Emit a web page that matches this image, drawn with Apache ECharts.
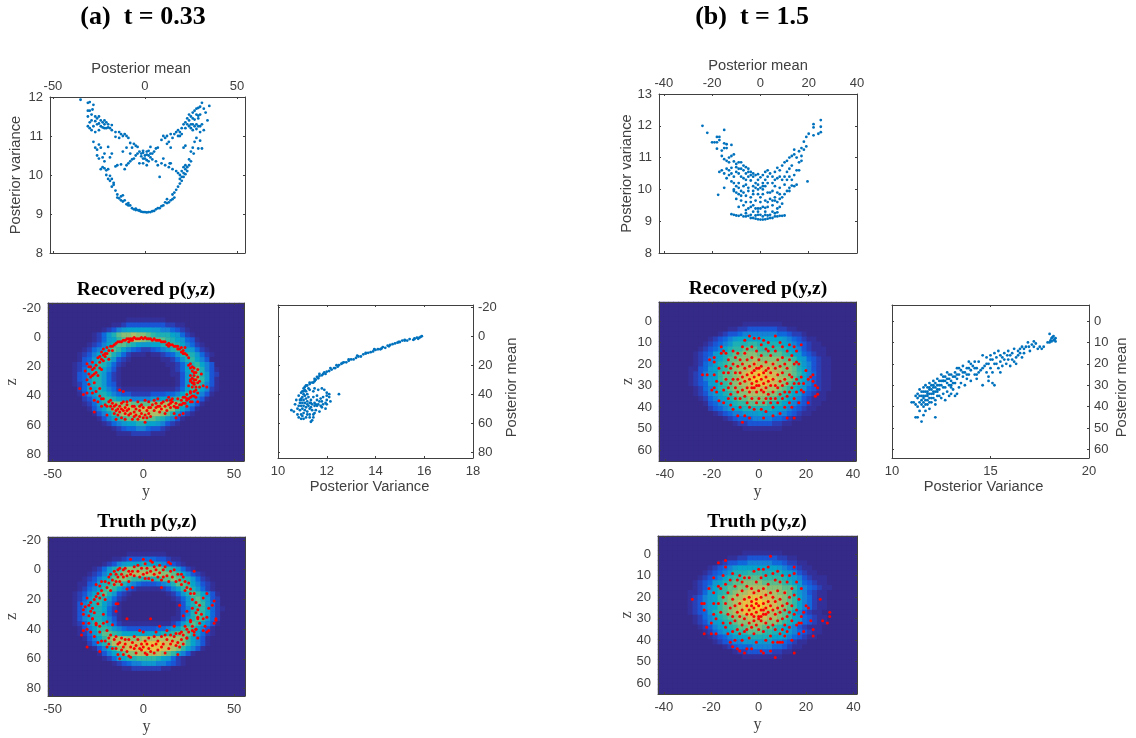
<!DOCTYPE html>
<html><head><meta charset="utf-8"><style>html,body{margin:0;padding:0;background:#fff}#c{width:1136px;height:738px}</style>
<script src="https://cdn.jsdelivr.net/npm/echarts@6/dist/echarts.min.js"></script></head>
<body><div id="c"></div><script>
const ticksA_y=[-50,0,50], ticksB_y=[-40,-20,0,20,40];
const ticksA_z=[-20,0,20,40,60,80], ticksB_z=[0,10,20,30,40,50,60];
const ticksA_var=[10,12,14,16,18], ticksB_var=[10,15,20];
const ticksA_pv=[8,9,10,11,12], ticksB_pv=[8,9,10,11,12,13];

// Scatter values, as flat x,y pairs
const aMeanVar=[-35,11.93,-31,11.85,-30,11.87,-28,11.8,-28.5,11.68,-30,11.65,-31,11.65,-31,11.5,-29,11.55,-27,11.5,-26,11.45,-25,11.5,-24,11.4,-23,11.35,-22,11.3,-21,11.35,-20,11.3,-22,11.2,-24,11.25,-26,11.3,-28,11.25,-30,11.2,-31,11.25,-29,11.15,-27,11.1,-25,11.15,-21,11.2,-19,11.2,-18,11.15,-16,11.1,-14,11.1,-13,11.05,-12,11,-11,11.05,-10,11,-9,10.95,-14,10.95,-16,10.98,-8,10.82,-6,10.8,-5,10.75,-7,10.7,-4,10.72,-3,10.6,-2,10.55,-1,10.57,0,10.5,1,10.52,2,10.5,-2,10.48,3,10.45,-1,10.42,1,10.6,2,10.62,3,10.72,5,10.6,6,10.68,4,10.55,7,10.7,9,10.9,10,11,11,10.95,12,11,13,10.85,14,11.05,15,10.95,16,11.05,17,11.1,18,11.15,19,11.1,20,11.2,21,11.3,22,11.35,23,11.45,24,11.4,25,11.5,26,11.6,27,11.65,28,11.7,29,11.72,30,11.75,31,11.85,32,11.7,35,11.77,33,11.6,34,11.4,30,11.55,28,11.55,26,11.45,24,11.25,25,11.2,26,11.3,27,11.25,28,11.3,29,11.25,31,11.3,32,11.15,30,11.1,28,10.95,27,10.85,30,10.88,29,10.68,31,10.68,26,10.7,25,10.6,26.5,10.55,21,10.7,22,10.75,14,10.7,19,11,12,10.8,
-28,10.85,-27,10.7,-26,10.65,-25,10.78,-24,10.7,-22,10.55,-26,10.5,-25,10.42,-23,10.45,-22,10.35,-24,10.15,-23,10.2,-22,10.17,-20,10.15,-21,10,-19,9.98,-20,9.9,-18,9.9,-17,9.8,-18,9.7,-16,9.6,-15,9.5,-15,9.42,-13,9.45,-12,9.48,-13,9.35,-11,9.35,-10,9.25,-9,9.22,-8,9.22,-7,9.15,-6,9.12,-5,9.1,-4,9.1,-3,9.08,-2,9.06,-1,9.05,0,9.05,1,9.04,2,9.05,3,9.05,4,9.07,6,9.12,7,9.15,9,9.2,10,9.22,11,9.3,12,9.38,13,9.3,14,9.35,15,9.5,16,9.55,17,9.62,18,9.7,19,9.78,20,9.85,21,9.95,22,10.02,20,10.1,21,10.2,22,10.15,23,10.1,24,10.25,25,10.35,24,10.4,22,10.25,-16,10.22,-15,10.25,-13,10.27,-11,10.15,-10,10.25,-9,10.3,-8,10.35,-7,10.4,-6,10.42,-5,10.5,-4,10.55,-3,10.3,-1,10.3,1,10.25,2,10.35,4,10.4,6,10.35,7,10.25,9,10.3,10,10.42,11,10.25,13,10.2,13.5,10.3,14,10.3,15,10.15,17,10.1,8,9.95,18,10.05,19,10,21,10.05,-12,10.6,-10,10.7,-8,10.55,-18,10.55,-20,10.72,-19,10.45,
-27,11.38,-25,11.32,-23,11.22,-22,11.4,-20,11.22,-18,11.28,-29,11.4,-30,11.35,27,11.42,29,11.45,25,11.3,23,11.3,28,11.18,30,11.25,26,11.15,29,11.52,24,11.55,22,11.2,20,11.05,18,11,-17,9.75,-14,9.4,-12,9.32,-9,9.28,-5,9.14,-3,9.1,5,9.08,8,9.15,12,9.28,15,9.38,16,9.42,19,9.9,20,9.95,23,10.2,-19,9.85,-21,10.12,-1,10.62,3,10.55,0,10.42,1,10.38];

const aRecovered=[-35,35,-33,39,-31,18,-32,23,-31,29,-30,25,-30,32,-29,20,-28,17,-28,22,-28,26,-27,31,-27,21,-26,24,-26,19,-25,26,-25,14,-24,17,-24,13,-23,22,-23,10,-22,16,-22,8,-21,11,-21,13,-20,7,-19,15,-19,9,-18,6,-17,6,-16,5,-15,4,-14,3,-13,3,-12,3,-11,2,-10,2,-9,1,-8,1,-7,1,-6,1,-6,2,-5,0,-4,1,-3,1,-2,1,-1,0,0,1,1,0,2,1,3,1,4,1,5,2,6,1,7,2,8,2,9,2,10,3,11,3,12,3,13,5,14,4,15,5,16,5,17,6,18,6,19,8,20,8,21,7,22,9,23,7,21,10,23,11,24,12,25,14,26,18,25,19,27,20,28,21,27,23,29,24,30,22,32,25,26,26,28,26,27,28,29,29,26,30,28,31,27,31,30,31,31,30,28,32,25,33,27,34,29,34,31,34,33,33,35,34,26,37,28,37,30,38,27,40,24,39,26,41,29,41,24,42,22,41,30,44,27,44,23,45,
-31,38,-29,35,-28,38,-27,43,-26,37,-25,44,-24,40,-23,47,-22,42,-21,46,-20,47,-20,53,-27,51,-19,44,-18,47,-17,49,-16,47,-16,52,-15,50,-15,56,-14,49,-14,53,-13,47,-13,51,-12,49,-12,55,-11,50,-11,44,-10,48,-10,52,-10,56,-9,50,-9,46,-8,53,-8,49,-7,43,-7,52,-6,47,-6,56,-5,51,-5,54,-4,49,-4,53,-3,44,-3,56,-2,50,-2,54,-1,46,-1,52,0,48,0,55,1,43,1,53,1,58,2,50,2,55,3,44,3,52,4,48,4,54,5,46,6,43,6,50,7,45,7,48,8,42,8,47,9,51,10,45,10,49,11,44,12,47,12,52,13,43,13,50,14,41,14,46,15,45,15,48,16,42,16,44,17,47,17,52,18,45,18,55,19,42,19,48,20,46,20,53,21,43,22,45,22,52,23,41,24,43,24,47,26,44,26,38,-13,36,-11,37,-9,44,-17,45,
-30,20,-29,27,-27,25,-24,21,-23,15,-22,12,-20,11,-17,9,-7,2,-8,3,14,6,19,6,22,11,26,21,28,24,26,29,30,27,28,29,29,36,-24,35,-23,42,-18,43,-15,46,-12,45,-5,47,-2,47,3,48,9,47,15,43,18,48,21,46,25,42,28,40];

const aPostVar=[15.9,0,15.85,0.5,15.8,1,15.7,1,15.75,1.8,15.6,1.5,15.55,2.5,15.4,2,15.3,3,15.2,3,15.1,3,15,4,14.9,4.5,14.8,5,14.7,5.5,14.6,6,14.5,6.5,14.4,8,14.3,7.5,14.2,9,14.1,9,14,9.5,13.9,10.5,13.8,11,13.7,11.5,13.6,12,13.5,12.5,13.4,14,13.3,14,13.2,15,13.1,16,13,16,12.9,17,12.8,18,12.7,18,12.6,19,12.5,20,12.4,20,12.35,22,12.3,22,12.2,23,12.1,24,12,24.5,11.95,26,11.85,26,11.8,27,11.7,27.5,11.65,29,11.6,28,11.55,30,11.5,31,11.45,32,11.4,32,11.3,33,11.2,34,11.15,34,11.1,35,11.1,37,11.05,36,11,38,12.5,40,12,39,11.9,37,11.8,36,11.65,37,11.5,36,11.45,38,11.3,37,11.2,40,11.05,40,10.95,39,10.85,41,10.75,44,10.9,44,11,42,11.05,44,11.15,43,11.25,42,11.35,44,11.45,42,11.6,41,11.75,43,11.85,42,12,41,12.1,40,12.1,42,12.15,45,12,44,11.95,46,11.8,45,11.7,45,11.6,44,11.5,46,11.4,47,11.3,46,11.2,45,11.1,46,11,46,10.9,46,10.85,48,10.95,48,11.05,48,11.15,49,11.25,48,11.35,49,11.5,48,11.6,48,11.75,48,11.85,47,12,47,11.95,50,11.8,49,10.7,47,10.55,51,10.65,52,10.8,50,10.9,51,11,50,11.1,51,11.2,52,11.3,50,11.4,51,11.55,51,11.7,52,11.5,53,11.45,54,11.3,54,11.2,54,11.05,53,10.95,54,10.8,54,10.85,56,11,55,11.05,57,11.15,56,11.3,56,11.45,56,11.4,58,11.35,59,10.95,57,
15.6,2,15.2,2.5,14.95,4,14.55,7,14.25,8.5,13.95,9,13.6,11.5,13.25,13.5,12.9,16,12.65,18.5,12.45,21,12.15,22,11.9,25,11.7,26,11.5,29.5,11.3,32,11.05,38,11.15,38,11.25,36,10.95,44,11.1,41,11.2,47,11.35,46,11.55,47,11.65,47,10.95,43];

const aTruth=[-33,27,-34,23,-33,30,-32,25,-31,19,-30,24,-30,31,-29,28,-29,22,-28,26,-28,33,-27,20,-27,29,-26,10,-26,18,-26,36,-25,16,-25,23,-24,19,-24,11,-24,38,-23,8,-23,14,-22,30,-22,17,-21,20,-21,8,-20,12,-20,35,-19,5,-19,9,-18,14,-18,3,-17,7,-16,1,-16,10,-15,3,-15,8,-14,0,-14,5,-14,23,-13,-1,-13,8,-12,3,-12,10,-11,0,-11,5,-10,-1,-9,4,-9,13,-8,1,-8,8,-7,-7,-7,3,-6,1,-6,12,-5,-2,-5,4,-3,-3,-3,1,-2,5,-1,-1,0,-7,0,3,1,-4,1,6,2,-1,2,2,3,6,4,-6,4,1,5,-5,5,7,6,-2,6,3,7,0,8,5,9,-3,9,2,10,7,10,12,11,0,11,5,12,-2,13,4,14,-5,14,8,15,-4,15,1,16,5,17,0,18,8,19,3,20,7,21,10,21,3,22,5,23,8,23,14,24,12,25,9,26,16,26,13,27,20,27,26,28,1,28,16,29,22,29,29,30,27,30,33,31,24,31,36,32,30,33,19,33,33,34,38,35,32,35,16,35,42,36,41,36,26,38,24,39,21,40,34,40,33,39,36,33,41,29,40,27,38,30,32,28,42,26,34,24,28,24,40,24,46,22,31,22,44,20,24,20,43,
-34,44,-33,36,-33,41,-31,52,-31,40,-30,36,-29,42,-28,33,-27,45,-26,37,-25,49,-24,55,-24,42,-23,48,-22,36,-21,48,-20,52,-20,41,-19,50,-19,46,-18,44,-17,53,-17,37,-16,47,-15,45,-15,53,-14,57,-14,50,-13,49,-13,60,-12,54,-12,46,-11,52,-11,57,-10,47,-10,50,-9,55,-8,47,-8,58,-7,52,-7,59,-6,49,-5,53,-5,45,-4,51,-4,56,-3,47,-2,53,-2,41,-1,50,-1,54,0,42,0,52,1,48,1,56,2,50,2,57,3,53,3,46,4,33,4,55,5,51,6,45,6,56,7,42,7,50,8,54,8,48,9,38,10,45,10,52,11,50,12,44,12,56,13,41,13,47,14,53,15,44,15,50,16,48,17,38,17,45,18,51,18,43,19,57,19,49,20,52,21,42,21,47,22,50,23,38,24,46,25,42,26,35,27,41,28,44,29,40,30,46,-9,33,-15,28,-15,23];

const bMeanVar=[-24,12,-22,11.78,-20,11.48,-19,11.48,-18,11.48,-17,11.65,-18,11.65,-17,11.55,-15,11.87,-15,11.45,-15,11.3,-16,11.22,-18,11.28,-16,11.05,-14,11.42,-14,11.3,-12,11.4,-11,11.1,-12,11.05,-13,11,-14,10.9,-15,10.95,-13,10.85,-11,10.88,-10,10.8,-9,10.85,-8,10.85,-7,10.75,-6,10.7,-7,10.6,-5,10.65,-4,10.55,-3,10.5,-2,10.45,-1,10.48,-4,10.45,-5,10.4,-6,10.5,-8,10.65,-10,10.7,-12,10.68,-14,10.65,-16,10.6,-17,10.55,-15,10.5,-13,10.45,-11,10.4,-9,10.5,-7,10.35,-6,10.3,-4,10.28,-12,10.25,-14,10.35,-11,10.2,-10,10.1,-15,10.05,-11,9.95,-10,9.9,-9,9.85,-8,9.95,-7,9.9,-5,10.05,-3,10.1,-2,10.05,-1,10,1,10,2,10.1,3,10.2,1,10.2,2,10.3,-6,9.8,-4,9.75,-3,9.85,-1,9.85,0,9.75,1,9.85,3,9.9,5,9.95,7,9.9,8,9.85,-17.5,9.83,-10,9.7,-8,9.65,-6,9.6,-4,9.6,-2,9.65,0,9.6,2,9.65,4,9.7,6,9.65,-9,9.45,-7,9.5,-5,9.4,-3,9.5,-1,9.4,1,9.45,3,9.45,5,9.5,7,9.4,9,9.55,-12,9.22,-11,9.2,-10,9.18,-9,9.17,-8,9.2,-7,9.15,-6,9.15,-5,9.17,-4,9.1,-3,9.1,-2,9.08,-1,9.06,0,9.05,1,9.05,2,9.06,3,9.08,4,9.1,5,9.1,6,9.15,7,9.15,8,9.17,9,9.17,10,9.18,-4,9.2,-2,9.18,0,9.2,1,9.15,2,9.2,3,9.18,4,9.2,-3,9.3,-1,9.3,2,9.3,5,9.3,7,9.28,8,9.45,9,9.75,10,9.85,11,9.95,12,10.05,13,10.12,14,10.1,15,10.15,19.5,10.25,13,10.3,12,10.4,14,10.45,10,10.4,9,10.3,7,10.35,5,10.4,4,10.5,3,10.6,2,10.55,1,10.45,0,10.38,-1,10.3,6,10.55,7,10.68,8,10.6,9,10.75,10,10.85,11,10.9,12,11,13,11.05,14,11.1,15,11,16,10.85,17,11.05,17,10.9,14,11.25,13,10.75,15,10.6,12,10.65,11,10.55,16,10.6,16,11.2,18,11.25,17,11.3,19,11.35,18,11.5,19,11.65,20,11.75,22,11.7,22,11.95,22,12.05,24,11.75,25,11.8,25,11.97,25,12.18,-9,10.05,-7,10.1,-5,9.95,-11,10,-3,9.95,-6,10.15,6,10.1,8,10.05,10,10.15,12,9.95,6,9.75,4,9.9,
-13,10.6,-12,10.5,-10,10.55,-9,10.65,-8,10.4,-5,10.55,-3,10.4,-2,10.2,-1,10.15,0,10.05,1,10.1,3,10.4,5,10.2,6,10.3,8,10.4,11,10.3,-8,9.8,-9,10.2,-6,9.35,-4,9.45,-2,9.4,0,9.4,2,9.42,3,9.6,5,9.65,7,9.6,8,9.7,-6,9.25,-1,9.2,6,9.25];

const bRecovered=[-24,25,-22,25,-19,25,-20,32,-19,31,-19,19,-18,28,-18,33,-17,22,-17,37,-16,12,-16,15,-16,29,-15,14,-15,24,-15,32,-15,38,-14,15,-14,21,-14,27,-13,18,-13,24,-13,31,-13,36,-12,22,-12,29,-12,34,-12,39,-11,14,-11,20,-11,27,-11,41,-10,17,-10,24,-10,31,-10,36,-9,15,-9,21,-9,27,-9,33,-9,44,-8,18,-8,24,-8,29,-8,36,-8,40,-7,12,-7,20,-7,26,-7,32,-7,47,-6,9,-6,15,-6,22,-6,28,-6,35,-6,44,-5,18,-5,25,-5,31,-5,38,-5,13,-4,7,-4,21,-4,27,-4,33,-4,40,-4,45,-3,12,-3,17,-3,24,-3,29,-3,36,-2,8,-2,20,-2,26,-2,31,-2,41,-1,14,-1,22,-1,28,-1,33,-1,38,0,8,0,18,0,25,0,30,0,36,1,11,1,16,1,21,1,27,1,32,1,41,2,9,2,24,2,29,2,38,2,45,3,13,3,19,3,26,3,31,3,36,3,42,4,10,4,22,4,28,4,34,5,16,5,24,5,30,5,38,6,12,6,20,6,27,6,33,6,40,6,44,7,7,7,14,7,22,7,30,7,36,8,18,8,25,8,31,8,38,9,10,9,21,9,28,9,34,9,43,10,12,10,17,10,24,10,30,10,36,11,20,11,27,11,33,11,40,12,14,12,22,12,29,12,35,12,45,13,11,13,18,13,25,13,33,13,38,14,16,14,26,14,31,14,40,15,12,15,20,15,29,15,36,15,45,16,14,16,19,16,27,16,33,17,20,17,29,17,38,18,11,18,26,18,32,19,29,19,33,20,23,21,27,21,38,22,26,23,28,23,25,24,30,24,35,25,31,25,34,-21,18,-19,17,-3,31,4,14,5,36,-1,30,2,33,0,22,-2,23,3,23];

const bPostVar=[18.2,7,18.1,8,18.3,8,18.2,9,18,6,18.3,9.5,18.1,9.5,17.9,10,18,10,17.7,12,17.6,13,17.5,12,17.4,13,17.2,9.5,17.2,12,17.1,11,17,14,16.9,10,16.8,12,16.7,15,16.6,12,16.6,17,16.5,13,16.5,15,16.4,14,16.3,17,16.2,13,16.2,19,16.1,15,16,16,16,21,15.9,14,15.9,18,15.8,20,15.7,15,15.6,17,15.6,21,15.5,19,15.4,14,15.4,22,15.3,17,15.2,15,15.2,20,15.1,18,15.1,24,15,16,15,22,14.9,20,14.8,17,14.8,24,14.7,21,14.6,16,14.6,30,14.5,23,14.4,19,14.3,22,14.3,27,14.2,19,14.2,25,14.1,21,14,23,14,28,13.9,19,13.9,25,13.8,22,13.8,27,13.7,24,13.7,30,13.6,21,13.6,26,13.5,23,13.5,29,13.4,25,13.4,31,13.3,22,13.3,27,13.2,24,13.2,29,13.2,35,13.1,26,13.1,32,13,25,13,28,13,34,12.9,27,12.9,30,12.8,24,12.8,29,12.8,33,12.7,26,12.7,31,12.6,28,12.6,34,12.5,25,12.5,30,12.5,36,12.4,28,12.4,32,12.3,27,12.3,30,12.3,35,12.2,29,12.2,33,12.2,39,12.2,45,12.1,28,12.1,31,12.1,36,12,30,12,34,12,38,11.9,29,11.9,32,11.9,36,11.9,41,11.8,31,11.8,34,11.8,39,11.7,30,11.7,33,11.7,37,11.7,42,11.6,31,11.6,35,11.6,40,11.6,44,11.5,33,11.5,37,11.5,39,11.5,47,11.4,35,11.4,42,11.3,36,11.3,40,11.3,45,11.2,35,11.2,39,11.1,38,11,38,11.2,45,12.6,28,12.4,35,13.3,34,12.7,37,14.3,25,15.1,29,14.9,28,15.2,30,14.9,26,15.5,24,16.3,20,13,31,12.9,35,12.3,33,12.1,33,11.9,34,11.8,37,12.2,37,11.6,38,
18.25,8.5,18.15,7.5,18.05,9,17.3,10.5,16.95,12,16.7,13,16.4,16,16.1,18,15.85,16,15.7,18,15.5,16,15.3,20,15,18,14.8,20,14.6,22,14.4,24,14.2,22,14,20,13.9,22,13.8,25,13.6,24,13.4,22,13.3,25,13.2,26,13.1,29,13,30,12.9,25,12.8,27,12.7,28,12.6,26,12.6,31,12.5,28,12.4,30,12.3,32,12.2,31,12.1,30,12.1,34,12,32,12,36,11.9,31,11.9,38,11.8,33,11.8,35,11.7,35,11.7,39,11.6,33,11.6,36,11.5,35,11.4,38,11.3,34,11.4,32];

const bTruth=[-28,21,-24,23,-23,26,-23,23,-22,34,-23,37,-21,16,-20,32,-20,37,-19,11,-19,18,-19,23,-19,28,-18,30,-18,37,-17,4,-17,15,-17,23,-16,27,-16,16,-15,10,-15,20,-15,32,-14,3,-14,14,-14,23,-14,34,-14,6,-13,18,-13,28,-13,37,-12,12,-12,25,-12,32,-12,41,-11,9,-11,21,-11,29,-11,36,-11,43,-10,15,-10,24,-10,31,-10,40,-9,12,-9,19,-9,27,-9,35,-9,44,-8,10,-8,23,-8,29,-8,37,-8,45,-7,13,-7,17,-7,26,-7,33,-7,40,-6,11,-6,21,-6,30,-6,36,-6,46,-5,15,-5,24,-5,28,-5,35,-5,44,-4,11,-4,20,-4,26,-4,32,-4,39,-3,16,-3,22,-3,28,-3,34,-3,44,-2,8,-2,18,-2,25,-2,31,-2,37,-1,13,-1,21,-1,27,-1,33,-1,41,0,7,0,17,0,24,0,29,0,35,1,11,1,20,1,26,1,31,1,45,2,7,2,16,2,23,2,28,2,36,2,46,3,10,3,19,3,25,3,32,3,40,4,6,4,14,4,22,4,27,4,34,5,1,5,18,5,24,5,30,5,38,5,45,6,9,6,20,6,26,6,33,6,41,7,12,7,22,7,28,7,35,7,48,8,8,8,17,8,25,8,31,8,41,9,13,9,21,9,27,9,37,9,41,10,10,10,24,10,30,10,35,10,41,11,18,11,26,11,33,11,38,12,13,12,23,12,29,12,36,13,10,13,20,13,27,13,34,14,16,14,24,14,31,14,40,15,9,15,6,15,19,15,28,15,46,16,13,16,26,16,33,17,21,17,32,17,37,18,16,18,29,18,32,19,27,19,36,20,24,21,25,22,31,23,35,23,38,26,21,27,31,29,32,30,27,30,29,-1,23,1,29,3,28,-2,29,0,30,2,26,-3,24];

// Density levels 0-f, one string per image row, top to bottom (trailing zeros omitted)
const aRecoveredDensity=['','','',
'000000000000000011111111',
'0000000000000112333333332211',
'00000000000123567777766554321',
'00000000012468abbcbba988876421',
'000000000124679abccbaaaa9876431',
'00000000123578aa9876677899875421',
'0000000124579a9754322345689976421',
'000000123579a864211101123468986421',
'000000134689863210000001124689753',
'0000012357986421000000001124689753',
'00000124688753100000000001247 9a8531'.replace(' ',''),
'0000013468864210000000000113 68a8632'.replace(' ',''),
'00000134688642100000000000136 9b9631'.replace(' ',''),
'00000124688643100000000000136 9a8531'.replace(' ',''),
'0000002467875421111111111124 7997521'.replace(' ',''),
'0000001356887543322223334457987531',
'000000023579987665555667789a97531',
'000000012468abbbbaaaabbcccb97531',
'0000000013579bcddccddcddcb97531',
'00000000013579bccccccccba86421',
'0000000000135789aabbaa986531',
'000000000001245677887765321',
'0000000000000123445543321',
'000000000000001112222111','','','','',''];
const aTruthDensity=['','','',
'000000000000000011111111',
'000000000000011233344433211',
'0000000000012356777877654321',
'000000000124689abbbbbbba986421',
'00000000123579abcccccccbba975321',
'0000000123578abba998889aaba986421',
'0000001134689aa86543334568aa975321',
'000000124579a975321111123579a86421',
'00000123579a8632100000001246 8a97531'.replace(' ',''),
'000001246898642100000000012469a8632',
'00000135789753100000000000136 8a9642'.replace(' ',''),
'000001357887421000000000001358997421',
'00000135788742100000000000135 8a9742'.replace(' ',''),
'0000013578875310000000000113 68a9642'.replace(' ',''),
'0000012468986421111111111246 8a97531'.replace(' ',''),
'0000001357998654333333445679a97531',
'00000012468aa9877777777889aba86421',
'000000013579bcccbbbccccccccb97531',
'000000002468acdddddeeeedddcb97531',
'00000000013579bcdddeeeeddcb97531',
'000000000013578abbcccccba97531',
'0000000000012467889999876421',
'0000000000000123455666554321',
'0000000000000001122222211','','','','',''];
const bRecoveredDensity=['','','','',
'0000000000000000011111111',
'0000000000000011223333332211',
'000000000000123345555555443221',
'00000000001234567777777776543211',
'000000000123456888998888876543211',
'00000000123457899aaa99999876532111',
'000000012346789aabbbaaaaa987643211',
'00000001235678aabbbcbbbbbaa97643211',
'00000001245789abbccdccccbbba8653211',
'00000011346789abccddeddccbba8753211',
'0000001235679aabcdeefeddcbba9754211',
'0000001235679aabcdeffeedccba8753211',
'00000012346789abccdeeeddcba98653211',
'00000001245789abbcddddccba987643211',
'000000012356789abbccccbba987643211',
'0000000012456789aabbbbaa9876532111',
'000000000134567899aaaa98876543211',
'00000000002345677888888776543211',
'0000000000012345566676665543211',
'00000000000001234445555443211',
'000000000000000122333332211',
'0000000000000000011111111','','','','','',''];
const bTruthDensity=['','','',
'0000000000000000011111111',
'0000000000000011223333332211',
'000000000000123344555554432211',
'0000000000123456777777776543211',
'00000000012345688899988887653211',
'00000000123457899aaaa9999876532111',
'000000012346789aabbbbaaaa987643211',
'00000001235789aabbccccbbbaa97543211',
'00000011246789abccddddccbba8653211',
'0000001235679abccdeeeddccba9754211',
'0000001235679abcdeeffeddcba9754211',
'0000001235679abcdeeffeedcba9754211',
'0000001234689abcdeeeedccba9753211',
'00000001245789abccddddccba97643211',
'000000012356789abbccccbba987643211',
'0000000012356789aabbbaa9876532111',
'000000000124567899aaa998876543211',
'00000000001234567788888776543211',
'000000000001234556666665543211',
'00000000000001234445555443211',
'000000000000000122333332211',
'0000000000000000011111111','','','','','','',''];
const densityColors=['#352A87','#33309A','#2A3FB5','#1A55D5','#0F68DC','#1481D6','#0E98CF','#06A4CA','#1CB0B6','#2EB7A4','#5BBC8C','#87BF77','#ACBE67','#D1BB59','#E8C145','#FEC832'];

// Panel geometry and axis ranges; xg/yg = distance from axis to the centre of its name
const panels=[
 {rect:[50,97,245,253],xr:[-51.6,54.4],yr:[8,12],xt:ticksA_y,yt:ticksA_pv,xPos:'top',pts:aMeanVar,c:'#0072BD',xn:'Posterior mean',yn:'Posterior variance',sans:true,xg:28,yg:34,xpad:13},
 {rect:[48,303,244,461],xr:[-52.5,55.5],yr:[-23.5,84.5],xt:ticksA_y,yt:ticksA_z,inv:true,pts:aRecovered,c:'#ff0000',xn:'y',yn:'z',heat:aRecoveredDensity,xg:31,yg:36},
 {rect:[278,305,473,458],xr:[10,18],yr:[-21.5,84],xt:ticksA_var,yt:ticksA_z,inv:true,yPos:'right',pts:aPostVar,c:'#0072BD',xn:'Posterior Variance',yn:'Posterior mean',sans:true,xg:29,yg:39,xpad:12,ypad:12},
 {rect:[48,537,245,696],xr:[-52.5,56],yr:[-22,85],xt:ticksA_y,yt:ticksA_z,inv:true,pts:aTruth,c:'#ff0000',xn:'y',yn:'z',heat:aTruthDensity,xg:31,yg:36},
 {rect:[659,94,857,253],xr:[-42,40],yr:[8,13],xt:ticksB_y,yt:ticksB_pv,xPos:'top',pts:bMeanVar,c:'#0072BD',xn:'Posterior mean',yn:'Posterior variance',sans:true,xg:28,yg:32},
 {rect:[659,302,856,461],xr:[-42.5,41.3],yr:[-8.8,65],xt:ticksB_y,yt:ticksB_z,inv:true,pts:bRecovered,c:'#ff0000',xn:'y',yn:'z',heat:bRecoveredDensity,xg:31,yg:31},
 {rect:[892,305,1089,458],xr:[10,20],yr:[-7.5,64],xt:ticksB_var,yt:ticksB_z,inv:true,yPos:'right',pts:bPostVar,c:'#0072BD',xn:'Posterior Variance',yn:'Posterior mean',sans:true,xg:29,yg:33,xpad:14,ypad:12},
 {rect:[658,536,857,694],xr:[-42.5,41.5],yr:[-8.4,65],xt:ticksB_y,yt:ticksB_z,inv:true,pts:bTruth,c:'#ff0000',xn:'y',yn:'z',heat:bTruthDensity,xg:31,yg:31}
];
const titleTexts=[['(a)  t = 0.33',143,17,26],['(b)  t = 1.5',752,17,26],['Recovered p(y,z)',146,290,19.5],['Truth p(y,z)',147,522,19.5],['Recovered p(y,z)',758,289,19.5],['Truth p(y,z)',757,522,19.5]];

const INK='#404040', COLS=40, ROWS=32, DARK='#352A87';
const grid=[],xAxis=[],yAxis=[],series=[],heatIdx=[];
function pairs(a){const o=[];for(let i=0;i<a.length;i+=2)o.push([a[i],a[i+1]]);return o;}
function valueAxis(dim,p,gi,pos,labelled,range,ticks,inv){
  const font=p.sans?{fontFamily:'Liberation Sans',fontSize:14.7,color:INK}:{fontFamily:'Liberation Serif',fontSize:16,color:INK};
  const margin=dim==='x'?(pos==='top'?4:7):(pos==='left'?7:5);
  const a={type:'value',gridIndex:gi,position:pos,min:range[0],max:range[1],inverse:!!inv,z:5,
    splitLine:{show:false},axisLine:{show:true,onZero:false,lineStyle:{color:INK,width:1}},
    axisTick:{show:true,inside:true,length:2,customValues:ticks,lineStyle:{color:INK,width:1}},
    axisLabel:{show:labelled,customValues:ticks,margin,hideOverlap:false,fontFamily:'Liberation Sans',fontSize:13,color:INK}};
  if(labelled){a.name=dim==='x'?p.xn:p.yn;a.nameLocation='middle';a.nameMoveOverlap=false;
    a.nameGap=(dim==='x'?p.xg:p.yg)-font.fontSize/2;
    a.nameTextStyle=Object.assign({padding:[0,(dim==='x'?p.xpad:p.ypad)||0,0,0]},font);}
  return a;
}
function catAxis(gi,n){return {type:'category',gridIndex:gi,show:false,data:Array.from({length:n},(_,i)=>i)};}
panels.forEach((p,gi)=>{
  const [l,t,r,b]=p.rect;
  grid.push(Object.assign({left:l,top:t,width:r-l,height:b-t,containLabel:false},p.heat?{show:true,backgroundColor:DARK,borderWidth:0}:{}));
  const xp=p.xPos||'bottom', yp=p.yPos||'left';
  const xi=xAxis.length, yi=yAxis.length;
  xAxis.push(valueAxis('x',p,gi,xp,true,p.xr,p.xt,false));
  xAxis.push(valueAxis('x',p,gi,xp==='top'?'bottom':'top',false,p.xr,p.xt,false));
  yAxis.push(valueAxis('y',p,gi,yp,true,p.yr,p.yt,p.inv));
  yAxis.push(valueAxis('y',p,gi,yp==='left'?'right':'left',false,p.yr,p.yt,p.inv));
  if(p.heat){
    const cx=xAxis.length, cy=yAxis.length;
    xAxis.push(catAxis(gi,COLS));
    const ya=catAxis(gi,ROWS); ya.inverse=true; yAxis.push(ya);
    const data=[];
    p.heat.forEach((row,j)=>{const s=row.padEnd(COLS,'0');for(let i=0;i<COLS;i++)data.push([i,j,parseInt(s[i],16)]);});
    heatIdx.push(series.length);
    series.push({type:'heatmap',xAxisIndex:cx,yAxisIndex:cy,data,silent:true,progressive:0,z:1,itemStyle:{borderWidth:0}});
  }
  series.push({type:'scatter',xAxisIndex:xi,yAxisIndex:yi,data:pairs(p.pts),symbol:'circle',symbolSize:p.heat?3:2.8,silent:true,z:6,
    itemStyle:{color:p.c,opacity:1}});
});
const chart=echarts.init(document.getElementById('c'),null,{renderer:'canvas'});
chart.setOption({animation:false,backgroundColor:'#fff',tooltip:{show:false},
  title:titleTexts.map(([text,x,y,size])=>({text,left:x,top:y,padding:0,textAlign:'center',textVerticalAlign:'middle',
    textStyle:{fontFamily:'Liberation Serif',fontWeight:'bold',fontSize:size,color:'#000'}})),
  visualMap:{type:'continuous',show:false,seriesIndex:heatIdx,dimension:2,min:0,max:15,inRange:{color:densityColors}},
  grid,xAxis,yAxis,series});
</script></body></html>
